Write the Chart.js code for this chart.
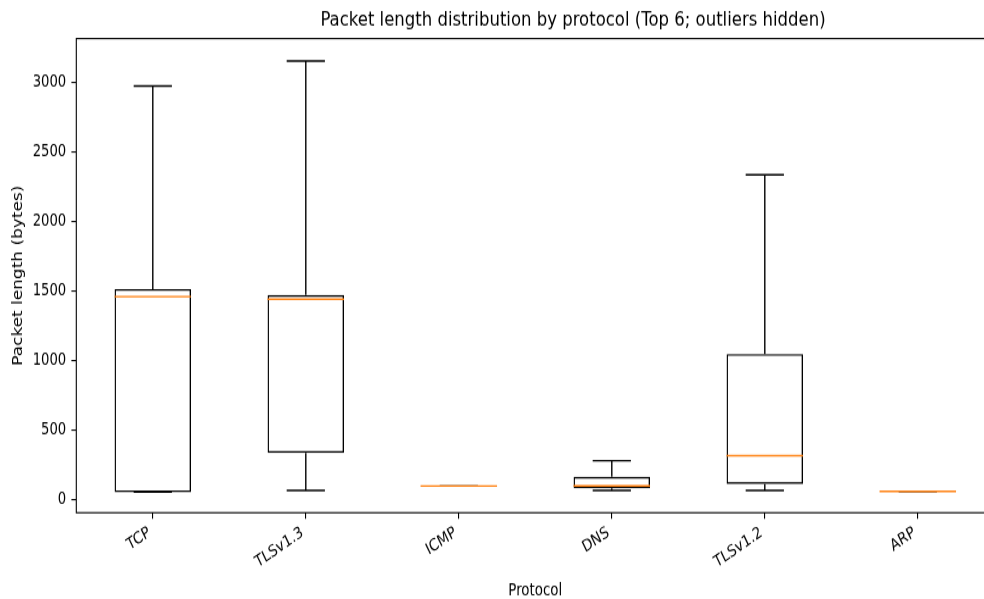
<!DOCTYPE html>
<html>
<head>
<meta charset="utf-8">
<script src="https://cdn.jsdelivr.net/npm/chart.js@4.4.1/dist/chart.umd.min.js"></script>
<style>
  html, body { margin: 0; padding: 0; background: #fff; overflow: hidden; }
  #wrap { width: 984px; height: 599px; overflow: hidden; position: relative; }
  #c { position: absolute; left: 0; top: 0; transform-origin: 0 0; transform: scale(1, 1.21996); }
</style>
</head>
<body>
<div id="wrap"><canvas id="c" width="1146" height="491" style="width:1146px;height:491px"></canvas></div>
<script>
// ---- data ----
const categories  = ['TCP', 'TLSv1.3', 'ICMP', 'DNS', 'TLSv1.2', 'ARP'];
const whiskerLow  = [54,   66,   98,  66,  66,   60];
const q1          = [54,   336,  98,  82,  113,  60];
const median      = [1460, 1441, 98,  99,  316,  60];
const q3          = [1514, 1471, 98,  164, 1047, 60];
const whiskerHigh = [2974, 3154, 98,  280, 2336, 60];
const yTickValues = [0, 500, 1000, 1500, 2000, 2500, 3000];
const yMin = -94;
const yMax = 3315;

const titleText = 'Packet length distribution by protocol (Top 6; outliers hidden)';
const xTitle = 'Protocol';
const yTitle = 'Packet length (bytes)';

const FONT = "'DejaVu Sans', 'Liberation Sans', sans-serif";
const BOX_FRACTION = 0.5;   // box width as fraction of category
const CAP_FRACTION = 0.25;  // cap width as fraction of category
const MEDIAN_COLOR = '#ff7f0e';
const LW = 1.39;

const boxParts = {
  id: 'boxParts',
  beforeDatasetsDraw(chart) {
    const {ctx, scales: {x, y}} = chart;
    const cw = x.getPixelForValue(1) - x.getPixelForValue(0);
    ctx.save();
    ctx.strokeStyle = '#000';
    ctx.lineWidth = LW;
    ctx.lineCap = 'butt';
    categories.forEach((c, i) => {
      const cx = x.getPixelForValue(i);
      const half = cw * CAP_FRACTION / 2;
      const yHi = y.getPixelForValue(whiskerHigh[i]);
      const yLo = y.getPixelForValue(whiskerLow[i]);
      const yQ1 = y.getPixelForValue(q1[i]);
      const yQ3 = y.getPixelForValue(q3[i]);
      ctx.beginPath();
      ctx.moveTo(cx, yQ3); ctx.lineTo(cx, yHi);
      ctx.moveTo(cx, yQ1); ctx.lineTo(cx, yLo);
      ctx.moveTo(cx - half, yHi); ctx.lineTo(cx + half, yHi);
      ctx.moveTo(cx - half, yLo); ctx.lineTo(cx + half, yLo);
      ctx.stroke();
    });
    ctx.restore();
  },
  afterDatasetsDraw(chart) {
    const {ctx, scales: {x, y}} = chart;
    const cw = x.getPixelForValue(1) - x.getPixelForValue(0);
    ctx.save();
    ctx.strokeStyle = MEDIAN_COLOR;
    ctx.lineWidth = LW;
    categories.forEach((c, i) => {
      const cx = x.getPixelForValue(i);
      const half = cw * BOX_FRACTION / 2;
      const ym = y.getPixelForValue(median[i]);
      ctx.beginPath();
      ctx.moveTo(cx - half, ym); ctx.lineTo(cx + half, ym);
      ctx.stroke();
    });
    ctx.restore();
  },
  afterDraw(chart) {
    const {ctx, chartArea: a} = chart;
    ctx.save();
    ctx.strokeStyle = '#000';
    ctx.lineWidth = 1.1;
    ctx.strokeRect(a.left, a.top, a.right - a.left, a.bottom - a.top);
    ctx.restore();
  }
};

new Chart(document.getElementById('c'), {
  type: 'bar',
  data: {
    labels: categories,
    datasets: [{
      data: categories.map((c, i) => [q1[i], q3[i]]),
      backgroundColor: 'rgba(255,255,255,0)',
      borderColor: '#000',
      borderWidth: LW,
      borderSkipped: false,
      barPercentage: BOX_FRACTION,
      categoryPercentage: 1.0,
      yAxisID: 'y'
    }]
  },
  options: {
    responsive: false,
    animation: false,
    devicePixelRatio: 1,
    layout: { padding: 0 },
    plugins: {
      legend: { display: false },
      tooltip: { enabled: false },
      title: {
        display: true,
        text: titleText,
        color: '#000',
        font: { family: FONT, size: 16.5, weight: 'normal' },
        padding: { top: 6.8, bottom: 5 }
      }
    },
    scales: {
      x: {
        type: 'category',
        offset: true,
        grid: { display: true, offset: false, drawOnChartArea: false, drawTicks: true, tickLength: 4.9, color: '#000', lineWidth: 1.1 },
        border: { display: false },
        ticks: {
          color: '#000',
          font: { family: FONT, size: 13.4 },
          minRotation: 30, maxRotation: 30,
          autoSkip: false,
          padding: 3.5,
          labelOffset: -3.4
        },
        title: {
          display: true, text: xTitle, color: '#000',
          font: { family: FONT, size: 13.4 },
          padding: { top: 0, bottom: -1.2 }
        },
        afterFit(s) { s.height = 70.75; }
      },
      y: {
        type: 'linear',
        position: 'left',
        min: yMin, max: yMax,
        afterBuildTicks(s) { s.ticks = yTickValues.map(v => ({ value: v })); },
        grid: { display: true, drawOnChartArea: false, drawTicks: true, tickLength: 4.9, color: '#000', lineWidth: 1.1 },
        border: { display: false },
        ticks: {
          color: '#000',
          font: { family: FONT, size: 13.2 },
          padding: 5.2,
          callback: (v) => String(v)
        },
        title: {
          display: true, text: yTitle, color: '#000',
          font: { family: FONT, size: 13.9 },
          padding: { top: 10, bottom: 0 }
        },
        afterFit(s) { s.width = 76.3; }
      },
      yR: {
        type: 'linear',
        position: 'right',
        min: 0, max: 1,
        grid: { display: false },
        border: { display: false },
        ticks: { display: false },
        afterFit(s) { s.width = 151.7; }
      }
    }
  },
  plugins: [boxParts]
});
</script>
</body>
</html>
